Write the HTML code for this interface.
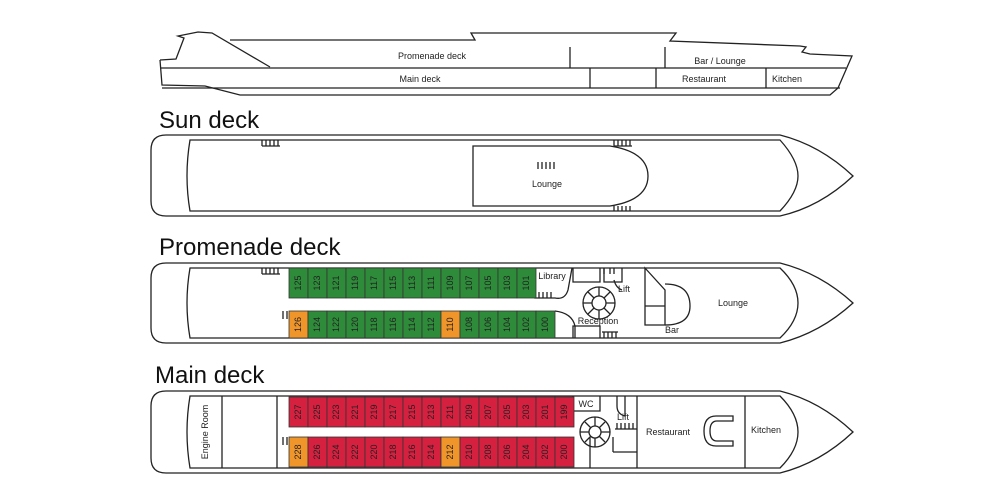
<!DOCTYPE html>
<html><head><meta charset="utf-8"><style>
body{margin:0;background:#fff;}
svg{display:block;font-family:"Liberation Sans",sans-serif;}
.l{fill:none;stroke:#222;stroke-width:1.3}
.t{font-size:9px;fill:#222}
.h{font-size:24px;fill:#111;font-family:"Liberation Sans",sans-serif;}
</style></head><body>
<svg id="s" width="990" height="495" viewBox="0 0 990 495">
<!-- profile -->
<g class="l">
<path d="M160,60 L176,59 L184,38 L178,36 L198,32 L212,33 L270,67 M230,40 L475,40 L471,33 L676,33 L670,41 L800,46 L806,47 L802,52 L810,54 L852,56 L838,88 L830,95 L240,95 L205,86 L162,85 L160,60"/>
<line x1="160" y1="68" x2="846" y2="68"/>
<line x1="570" y1="47" x2="570" y2="68"/>
<line x1="665" y1="47" x2="665" y2="68"/>
<line x1="590" y1="68" x2="590" y2="88"/>
<line x1="656" y1="68" x2="656" y2="88"/>
<line x1="766" y1="68" x2="766" y2="88"/>
<line x1="162" y1="88" x2="840" y2="88"/>
</g>
<text class="t" x="432" y="59" text-anchor="middle">Promenade deck</text>
<text class="t" x="720" y="64" text-anchor="middle">Bar / Lounge</text>
<text class="t" x="420" y="82" text-anchor="middle">Main deck</text>
<text class="t" x="704" y="82" text-anchor="middle">Restaurant</text>
<text class="t" x="787" y="82" text-anchor="middle">Kitchen</text>

<text class="h" x="159" y="128">Sun deck</text>
<text class="h" x="159" y="255">Promenade deck</text>
<text class="h" x="155" y="383">Main deck</text>

<!-- sun deck -->
<g class="l">
<path d="M166,135 L780,135 Q820,145 853,176 Q820,207 780,216 L166,216 Q151,216 151,201 L151,150 Q151,135 166,135 Z"/>
<path d="M190,140 L780,140 Q798,160 798,176 Q798,192 780,211 L190,211 Q184,176 190,140 Z"/>
<path d="M473,146 L610,146 Q648,152 648,176 Q648,200 610,206 L473,206 Z"/>
<path d="M262,140 v6 M266,140 v6 M270,140 v6 M274,140 v6 M278,140 v6 M262,146 h18 M538,162 v7 M542,162 v7 M546,162 v7 M550,162 v7 M554,162 v7 M614,140 v6 M618,140 v6 M622,140 v6 M626,140 v6 M630,140 v6 M614,146h18 M614,206 v5 M618,206 v5 M622,206 v5 M626,206 v5 M630,206 v5"/>
</g>
<text class="t" x="547" y="187" text-anchor="middle">Lounge</text>

<!-- promenade -->
<g class="l">
<path d="M166,263 L780,263 Q820,273 853,303 Q820,333 780,343 L166,343 Q151,343 151,328 L151,278 Q151,263 166,263 Z"/>
<path d="M190,268 L780,268 Q798,285 798,303 Q798,321 780,338 L190,338 Q184,303 190,268 Z"/>
<path d="M535,268 L535,298 L555,298 Q565,300 568,290 L572,268 M555,311 Q572,313 575,326 L575,338"/>
<path d="M573,268 v14 h27 v-14 M573,338 v-12 h27 v12 M604,268 v14 h18 v-14 M614,280 q2,8 8,10"/>
<circle cx="599" cy="303" r="16"/><circle cx="599" cy="303" r="7"/>
<path d="M599,287 v9 M599,310 v9 M583,303 h9 M606,303 h9 M588,292 l6,6 M610,292 l-6,6 M588,314 l6,-6 M610,314 l-6,-6"/>
<path d="M645,268 L645,325 L665,325 L665,290 Z M645,306 h20"/>
<path d="M665,284 Q690,284 690,306 Q690,325 665,325"/>
<path d="M262,268 v6 M266,268 v6 M270,268 v6 M274,268 v6 M278,268 v6 M262,274h18 M283,311 v8 M287,311 v8 M539,292 v6 M543,292 v6 M547,292 v6 M551,292 v6 M604,338 v-6 M608,338 v-6 M612,338 v-6 M616,338 v-6 M602,332h16 M604,268 v6 M610,268 v6 M614,268 v6"/>
</g>
<text class="t" x="552" y="279" text-anchor="middle">Library</text>
<text class="t" x="624" y="292" text-anchor="middle">Lift</text>
<text class="t" x="598" y="324" text-anchor="middle">Reception</text>
<text class="t" x="672" y="333" text-anchor="middle">Bar</text>
<text class="t" x="733" y="306" text-anchor="middle">Lounge</text>

<!-- main -->
<g class="l">
<path d="M166,391 L780,391 Q820,401 853,432 Q820,463 780,473 L166,473 Q151,473 151,458 L151,406 Q151,391 166,391 Z"/>
<path d="M190,396 L780,396 Q798,414 798,432 Q798,450 780,468 L190,468 Q184,432 190,396 Z"/>
<line x1="222" y1="396" x2="222" y2="468"/>
<line x1="277" y1="396" x2="277" y2="468"/>
<line x1="637" y1="396" x2="637" y2="468"/>
<line x1="745" y1="396" x2="745" y2="468"/>
<line x1="590" y1="437" x2="590" y2="468"/>
<path d="M573,396 v15 h27 v-15 M617,396 v10 q0,8 8,10 v-20 M613,452 h24 M613,437 v15"/>
<circle cx="595" cy="432" r="15"/><circle cx="595" cy="432" r="6"/>
<path d="M595,417 v9 M595,438 v9 M580,432 h9 M601,432 h9 M585,422 l6,6 M605,422 l-6,6 M585,442 l6,-6 M605,442 l-6,-6"/>
<path d="M733,416 L716,416 Q704,416 704,431 Q704,446 716,446 L733,446 L733,441 L717,441 Q710,441 710,431 Q710,421 717,421 L733,421 Z"/>
<path d="M617,423 v6 M621,423 v6 M625,423 v6 M629,423 v6 M633,423 v6 M615,429h22 M283,437 v8 M287,437 v8"/>
</g>
<text class="t" x="586" y="407" text-anchor="middle">WC</text>
<text class="t" x="623" y="420" text-anchor="middle">Lift</text>
<text class="t" x="668" y="435" text-anchor="middle">Restaurant</text>
<text class="t" x="766" y="433" text-anchor="middle">Kitchen</text>
<text class="t" transform="translate(208,432) rotate(-90)" text-anchor="middle">Engine Room</text>
<g id="cab"></g>
</svg>
<script>
var g=document.getElementById('cab'),ns='http://www.w3.org/2000/svg';
function row(x0,n,y,h,col,oranges,num){
 for(var i=0;i<n;i++){var x=x0+i*19;var r=document.createElementNS(ns,'rect');
 r.setAttribute('x',x);r.setAttribute('y',y);r.setAttribute('width',19);r.setAttribute('height',h);
 r.setAttribute('fill',oranges.indexOf(i)>=0?'#f0952a':col);r.setAttribute('stroke','#333');r.setAttribute('stroke-width','0.8');g.appendChild(r);
 var t=document.createElementNS(ns,'text');t.setAttribute('class','t');t.setAttribute('font-size','7');t.setAttribute('fill','#555');
 t.setAttribute('transform','translate('+(x+12)+','+(y+h/2)+') rotate(-90)');t.setAttribute('text-anchor','middle');t.textContent=num(i);g.appendChild(t);}
}
row(289,13,268,30,'#2e8b3a',[],function(i){return 125-2*i;});
row(289,14,311,27,'#2e8b3a',[0,8],function(i){return 126-2*i;});
row(289,15,397,30,'#d6203f',[],function(i){return 227-2*i;});
row(289,15,437,30,'#d6203f',[0,8],function(i){return 228-2*i;});
</script>
</body></html>
